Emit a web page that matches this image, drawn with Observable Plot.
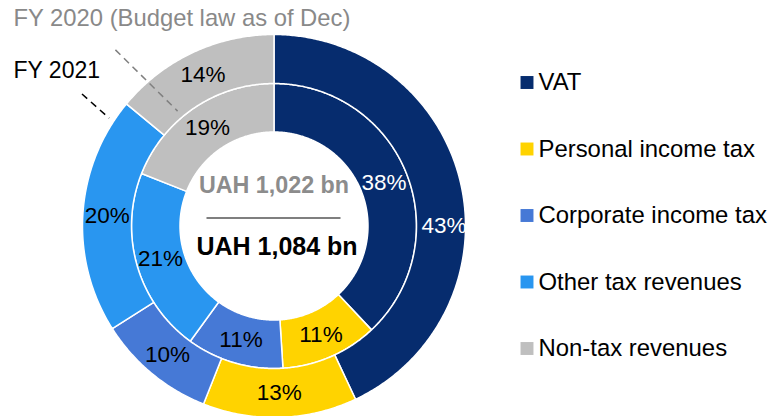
<!DOCTYPE html>
<html><head><meta charset="utf-8">
<script src="https://cdn.jsdelivr.net/npm/d3@7"></script>
<script src="https://cdn.jsdelivr.net/npm/@observablehq/plot@0.6"></script>
<style>html,body{margin:0;padding:0;background:#fff;} svg{display:block}</style>
</head><body><div id="chart"></div>
<script>
// ---- data ----
const categories = ["VAT","Personal income tax","Corporate income tax","Other tax revenues","Non-tax revenues"];
const colors = ["#062C6E","#FFD300","#4679D6","#2996F0","#BFBFBF"];
const fy2020 = [38,11,11,21,19]; // inner ring, % of total
const fy2021 = [43,13,10,20,14]; // outer ring, % of total
const seriesNames = ["FY 2020 (Budget law as of Dec)","FY 2021"];
const totals = ["UAH 1,022 bn","UAH 1,084 bn"];

// ---- layout ----
const W = 769, H = 416;
const cx = 273.5, cy = 225.5, rHole = 94, rMid = 142.5, rOuter = 191.5;
const FONT = "'Liberation Sans', Arial, Helvetica, sans-serif";
// label placed manually in the original (3 o'clock) instead of the slice mid-angle
const labelAngleOverride = {"FY2021|VAT": {angle: 90, r: 170}};

function pt(theta, r) { return {x: cx + r * Math.sin(theta), y: cy - r * Math.cos(theta)}; }
const deg = Math.PI / 180;

const rings = [
  {name: "FY2020", values: fy2020, r0: rHole, r1: rMid},
  {name: "FY2021", values: fy2021, r0: rMid, r1: rOuter}
];
const arcPts = [], labels = [];
for (const ring of rings) {
  const total = d3.sum(ring.values);
  let acc = 0;
  ring.values.forEach((v, i) => {
    const a0 = acc / total * 2 * Math.PI, a1 = (acc + v) / total * 2 * Math.PI;
    acc += v;
    const key = ring.name + "|" + categories[i];
    const n = Math.max(2, Math.ceil((a1 - a0) / (Math.PI / 360)));
    for (let k = 0; k <= n; k++) arcPts.push({key, cat: categories[i], ...pt(a0 + (a1 - a0) * k / n, ring.r1)});
    for (let k = n; k >= 0; k--) arcPts.push({key, cat: categories[i], ...pt(a0 + (a1 - a0) * k / n, ring.r0)});
    const o = labelAngleOverride[key];
    const p = o ? pt(o.angle * deg, o.r) : pt((a0 + a1) / 2, (ring.r0 + ring.r1) / 2);
    labels.push({cat: categories[i], text: v + "%", ...p});
  });
}

// leader lines (angle in degrees clockwise from 12 o'clock, radii)
function seg(aA, rA, aB, rB) { const a = pt(aA * deg, rA), b = pt(aB * deg, rB); return {x1: a.x, y1: a.y, x2: b.x, y2: b.y}; }
const leaders = [
  {name: seriesNames[0], color: "#808080", ...seg(-42, 237, -40, 150)},
  {name: seriesNames[1], color: "#000000", ...seg(-55.5, 233, -56.8, 197)}
];

const legend = categories.map((c, i) => ({cat: c, x: 526.5, y: 82 + i * 66.5}));

const chart = Plot.plot({
  width: W, height: H, margin: 0,
  x: {domain: [0, W], range: [0, W], axis: null},
  y: {domain: [0, H], range: [0, H], axis: null},
  color: {domain: categories, range: colors},
  style: {fontFamily: FONT, background: "white"},
  marks: [
    Plot.line(arcPts, {x: "x", y: "y", z: "key", fill: "cat", stroke: "white", strokeWidth: 1.5, curve: "linear-closed"}),
    Plot.text(labels, {filter: d => d.cat === "VAT", x: "x", y: "y", text: "text", fill: "white", fontSize: 22.5}),
    Plot.text(labels, {filter: d => d.cat !== "VAT", x: "x", y: "y", text: "text", fill: "black", fontSize: 22.5}),
    Plot.text([totals[0]], {x: () => cx, y: () => cy - 40, text: d => d, fill: "#8C8C8C", fontWeight: "bold", fontSize: 23.3}),
    Plot.ruleY([cy - 8], {x1: cx - 67, x2: cx + 67, stroke: "#7F7F7F", strokeWidth: 2}),
    Plot.text([totals[1]], {x: () => cx + 3, y: () => cy + 21, text: d => d, fill: "black", fontWeight: "bold", fontSize: 25}),
    Plot.link(leaders, {x1: "x1", y1: "y1", x2: "x2", y2: "y2", stroke: "color", strokeWidth: 1.5, strokeDasharray: "7,5"}),
    Plot.text([seriesNames[0]], {x: () => 13, y: () => 18, text: d => d, textAnchor: "start", fill: "#898989", fontSize: 23.8}),
    Plot.text([seriesNames[1]], {x: () => 13, y: () => 70, text: d => d, textAnchor: "start", fill: "black", fontSize: 23}),
    Plot.dot(legend, {x: "x", y: "y", fill: "cat", symbol: "square", r: 7.3}),
    Plot.text(legend, {x: d => d.x + 11.5, y: "y", text: "cat", textAnchor: "start", fill: "black", fontSize: 23.9})
  ]
});
document.getElementById("chart").appendChild(chart);
</script>
</body></html>
